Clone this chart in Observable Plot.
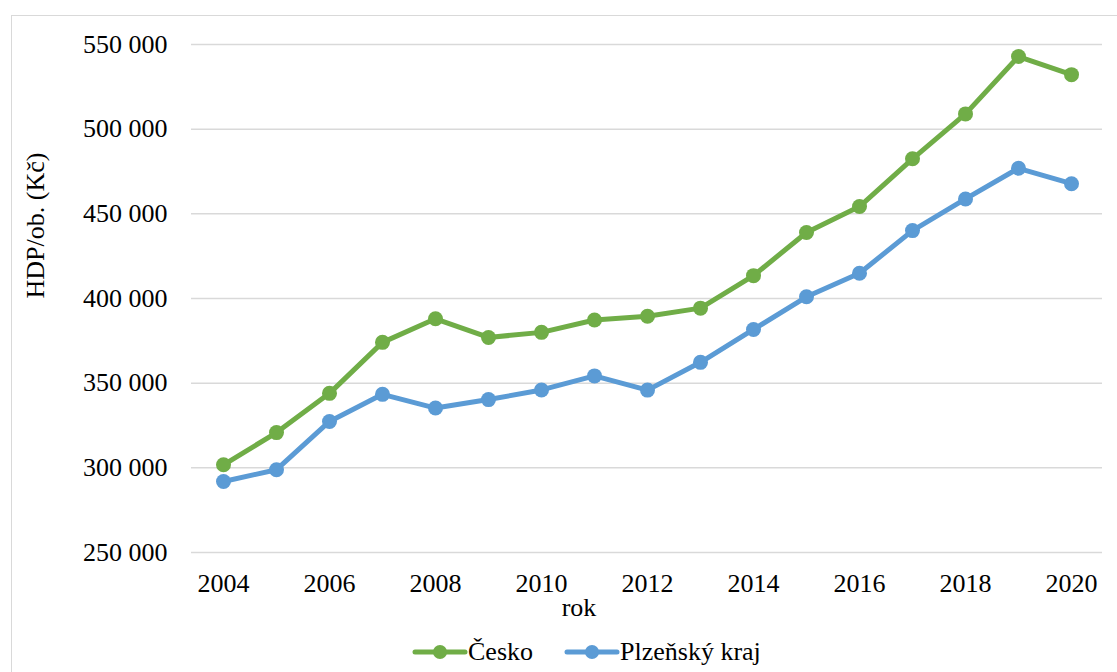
<!DOCTYPE html>
<html>
<head>
<meta charset="utf-8">
<script src="https://cdn.jsdelivr.net/npm/d3@7"></script>
<script src="https://cdn.jsdelivr.net/npm/@observablehq/plot@0.6"></script>
<style>
  html, body { margin: 0; padding: 0; background: #fff; overflow: hidden; width: 1117px; height: 672px; }
  #frame { position: absolute; left: 11px; top: 15px; width: 1200px; height: 800px; border: 1.5px solid #d9d9d9; box-sizing: border-box; }
  #chart { position: absolute; left: 0; top: 0; }
  #chart svg, #chart svg text { font-family: "Liberation Serif", "Times New Roman", serif !important; }
  #legend { position: absolute; left: 0; top: 636px; width: 1117px; height: 32px; font-family: "Liberation Serif", "Times New Roman", serif; font-size: 26px; color: #000; }
  .item { position: absolute; top: 0; display: flex; align-items: center; height: 32px; white-space: nowrap; }
</style>
</head>
<body>
<div id="frame"></div>
<div id="chart"></div>
<div id="legend"></div>
<script>
const years = [2004, 2005, 2006, 2007, 2008, 2009, 2010, 2011, 2012, 2013, 2014, 2015, 2016, 2017, 2018, 2019, 2020];
const cesko = [301800, 320800, 344000, 374100, 388000, 377000, 380000, 387300, 389500, 394300, 413500, 439000, 454300, 482500, 509000, 542900, 532200];
const plzen = [291900, 298900, 327400, 343400, 335300, 340300, 346000, 354300, 345900, 362300, 381700, 401000, 414900, 440100, 458800, 476900, 467800];
const seriesNames = ["Česko", "Plzeňský kraj"];
const seriesColors = ["#70AD47", "#5B9BD5"];
const xTicks = [2004, 2006, 2008, 2010, 2012, 2014, 2016, 2018, 2020];
const yTicks = [250000, 300000, 350000, 400000, 450000, 500000, 550000];
const xLabel = "rok";
const yLabel = "HDP/ob. (Kč)";

const FONT = "Liberation Serif, Times New Roman, serif";

const data = [];
years.forEach((y, i) => {
  data.push({year: y, value: cesko[i], series: seriesNames[0]});
  data.push({year: y, value: plzen[i], series: seriesNames[1]});
});

const fmt = d => d3.format(",")(d).replace(/,/g, "\u00a0");

const chart = Plot.plot({
  width: 1117,
  height: 625,
  marginLeft: 191,
  marginRight: 15,
  marginTop: 44,
  marginBottom: 73,
  style: {fontFamily: FONT, fontSize: "26px", color: "#000", background: "transparent"},
  x: {type: "point", domain: years, padding: 0.5},
  y: {domain: [250000, 550000]},
  color: {domain: seriesNames, range: seriesColors},
  marks: [
    Plot.ruleY(yTicks, {stroke: "#d9d9d9", strokeWidth: 1.5}),
    Plot.axisY({ticks: yTicks, tickSize: 0, tickPadding: 24, tickFormat: fmt, label: null, fontSize: 26, fontFamily: FONT, fill: "#000"}),
    Plot.axisX({ticks: xTicks, tickSize: 0, tickPadding: 21, tickFormat: d => String(d), label: null, fontSize: 26, fontFamily: FONT, fill: "#000"}),
    Plot.line(data, {x: "year", y: "value", z: "series", stroke: "series", strokeWidth: 5, strokeLinejoin: "round", strokeLinecap: "round"}),
    Plot.dot(data, {x: "year", y: "value", fill: "series", r: 7.5, stroke: null}),
    Plot.text([xLabel], {frameAnchor: "bottom", text: d => d, dy: 63, dx: -68, fontSize: 26, fontFamily: FONT, fill: "#000"}),
    Plot.text([yLabel], {frameAnchor: "left", text: d => d, dx: -156, rotate: -90, fontSize: 26, fontFamily: FONT, fill: "#000"})
  ]
});
document.getElementById("chart").appendChild(chart);

const legend = document.getElementById("legend");
const lefts = [412, 564];
seriesNames.forEach((name, i) => {
  const item = document.createElement("div");
  item.className = "item";
  item.style.left = lefts[i] + "px";
  item.innerHTML = `<svg width="56" height="16"><line x1="3" y1="8" x2="53" y2="8" stroke="${seriesColors[i]}" stroke-width="5" stroke-linecap="round"/><circle cx="28" cy="8" r="7" fill="${seriesColors[i]}"/></svg><span>${name}</span>`;
  legend.appendChild(item);
});
</script>
</body>
</html>
